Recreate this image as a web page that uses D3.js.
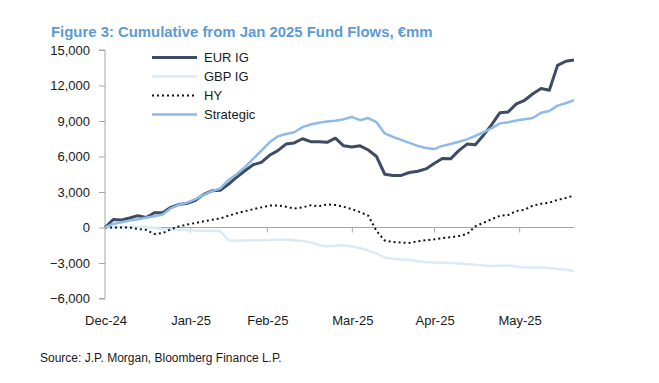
<!DOCTYPE html>
<html>
<head>
<meta charset="utf-8">
<script src="https://cdn.jsdelivr.net/npm/d3@7"></script>
<style>
  html, body { margin: 0; padding: 0; background: #ffffff; }
  svg { display: block; }
  text { font-family: "Liberation Sans", Arial, sans-serif; }
</style>
</head>
<body>
<svg id="chart" width="659" height="383"></svg>
<script>
// ---------------- data ----------------
const dates = [
  "2024-12-31","2025-01-03","2025-01-06","2025-01-09","2025-01-12","2025-01-15","2025-01-18","2025-01-21",
  "2025-01-24","2025-01-27","2025-01-30","2025-02-02","2025-02-05","2025-02-08","2025-02-11","2025-02-14",
  "2025-02-17","2025-02-20","2025-02-23","2025-02-26","2025-03-01","2025-03-04","2025-03-07","2025-03-10",
  "2025-03-13","2025-03-16","2025-03-19","2025-03-22","2025-03-25","2025-03-28","2025-03-31","2025-04-03",
  "2025-04-06","2025-04-09","2025-04-12","2025-04-15","2025-04-18","2025-04-21","2025-04-24","2025-04-27",
  "2025-04-30","2025-05-03","2025-05-06","2025-05-09","2025-05-12","2025-05-15","2025-05-18","2025-05-21",
  "2025-05-24","2025-05-27","2025-05-30","2025-06-02","2025-06-05","2025-06-08","2025-06-11","2025-06-14",
  "2025-06-17","2025-06-20"
];

const eurIG = [
  0, 680, 640, 800, 1000, 850, 1250, 1250,
  1700, 1950, 2050, 2300, 2800, 3100, 3150, 3650,
  4250, 4800, 5300, 5500, 6100, 6500, 7050, 7150,
  7500, 7250, 7250, 7200, 7550, 6900, 6800, 6900,
  6550, 6000, 4500, 4400, 4400, 4650, 4750, 4950,
  5400, 5830, 5800, 6500, 7050, 7000, 7800, 8700,
  9700, 9770, 10450, 10750, 11300, 11750, 11600, 13700,
  14050, 14150
];

const gbpIG = [
  0, 0, 20, 50, 50, 30, -50, -120,
  -170, -200, -230, -260, -280, -290, -300, -1080,
  -1120, -1100, -1080, -1070, -1060, -1040, -1010, -1080,
  -1140, -1250, -1500, -1580, -1550, -1500, -1600, -1750,
  -1950, -2200, -2550, -2650, -2700, -2750, -2850, -2920,
  -2950, -2970, -3000, -3050, -3100, -3150, -3220, -3270,
  -3230, -3200, -3300, -3380, -3380, -3380, -3420, -3500,
  -3580, -3670
];

const hy = [
  0, 0, 0, 0, -120, -200, -550, -480,
  -150, 100, 250, 380, 520, 650, 760, 1000,
  1200, 1370, 1550, 1700, 1850, 1870, 1750, 1600,
  1700, 1880, 1800, 1950, 1900, 1750, 1550, 1300,
  1000, -300, -1100, -1230, -1270, -1300, -1170, -1080,
  -1000, -900, -830, -720, -550, 100, 400, 700,
  1000, 1050, 1400, 1500, 1850, 2000, 2100, 2330,
  2500, 2700
];

const strategic = [
  0, 300, 450, 580, 700, 820, 950, 1100,
  1620, 1930, 2100, 2400, 2750, 3070, 3300, 4000,
  4500, 5100, 5800, 6500, 7200, 7700, 7900, 8050,
  8480, 8700, 8860, 8950, 9020, 9150, 9350, 9070,
  9250, 8900, 7950, 7660, 7400, 7150, 6900, 6720,
  6630, 6900, 7050, 7250, 7450, 7750, 8050, 8400,
  8800, 8900, 9050, 9150, 9250, 9700, 9850, 10300,
  10500, 10760
];

const seriesNames = ["EUR IG", "GBP IG", "HY", "Strategic"];
const yTicks = [-6000, -3000, 0, 3000, 6000, 9000, 12000, 15000];
const xTickDates = ["2024-12-31","2025-01-31","2025-02-28","2025-03-31","2025-04-30","2025-05-31"];
const xTickLabels = ["Dec-24","Jan-25","Feb-25","Mar-25","Apr-25","May-25"];
const titleText = "Figure 3: Cumulative from Jan 2025 Fund Flows, \u20ACmm";
const sourceText = "Source: J.P. Morgan, Bloomberg Finance L.P.";

// ---------------- styles ----------------
const styles = {
  "EUR IG":    { color: "#3d4b63", width: 3,   dash: null },
  "GBP IG":    { color: "#dce9f7", width: 2.5, dash: null },
  "HY":        { color: "#111111", width: 2,   dash: "2,3" },
  "Strategic": { color: "#8dbae6", width: 2.5, dash: null }
};
const axisColor = "#a6a6a6";
const textColor = "#1a1a1a";

// ---------------- chart ----------------
const svg = d3.select("#chart");
const parse = d3.utcParse("%Y-%m-%d");
const dateObjs = dates.map(parse);

const x = d3.scaleUtc()
  .domain([parse("2024-12-31"), parse("2025-06-20")])
  .range([105, 574]);
const y = d3.scaleLinear()
  .domain([-6000, 15000])
  .range([298.5, 50]);

// title
svg.append("text")
  .attr("x", 51).attr("y", 36.5)
  .attr("fill", "#5b9bd5")
  .attr("font-size", 14.9)
  .attr("font-weight", "bold")
  .text(titleText);

// y axis
const yAxis = d3.axisLeft(y)
  .tickValues(yTicks)
  .tickSize(6)
  .tickPadding(9)
  .tickFormat(d3.format(","));
const gy = svg.append("g").attr("transform", "translate(105,0)").call(yAxis);
gy.select(".domain").attr("stroke", axisColor).attr("d", `M-6,${y(15000)}H0V${y(-6000)}H-6`);
gy.selectAll(".tick line").attr("stroke", axisColor);
gy.selectAll(".tick text")
  .attr("fill", textColor)
  .attr("font-size", 13)
  .attr("font-family", "'Liberation Sans', Arial, sans-serif");

// x axis along zero line
const xAxis = d3.axisBottom(x)
  .tickValues(xTickDates.map(parse))
  .tickSize(5)
  .tickFormat((d, i) => "");
const gx = svg.append("g").attr("transform", `translate(0,${y(0)})`).call(xAxis);
gx.select(".domain").attr("stroke", axisColor).attr("d", `M105,0H574`);
gx.selectAll(".tick line").attr("stroke", axisColor);
gx.selectAll(".tick").filter((d, i) => i === 0).select("line").remove();

// x labels at bottom
svg.append("g").selectAll("text")
  .data(xTickDates)
  .join("text")
  .attr("x", d => x(parse(d)) + 1)
  .attr("y", 325)
  .attr("text-anchor", "middle")
  .attr("fill", textColor)
  .attr("font-size", 13)
  .text((d, i) => xTickLabels[i]);

// lines
const seriesData = { "EUR IG": eurIG, "GBP IG": gbpIG, "HY": hy, "Strategic": strategic };
const line = d3.line()
  .x((d, i) => x(dateObjs[i]))
  .y(d => y(d));

const drawOrder = ["GBP IG", "HY", "EUR IG", "Strategic"];
drawOrder.forEach(name => {
  const s = styles[name];
  svg.append("path")
    .datum(seriesData[name])
    .attr("fill", "none")
    .attr("stroke", s.color)
    .attr("stroke-width", s.width)
    .attr("stroke-dasharray", s.dash)
    .attr("stroke-linejoin", "round")
    .attr("d", line);
});

// legend
const legendY = [57.5, 76.5, 95.5, 114.5];
const lg = svg.append("g");
seriesNames.forEach((name, i) => {
  const s = styles[name];
  lg.append("line")
    .attr("x1", 152).attr("x2", 197)
    .attr("y1", legendY[i]).attr("y2", legendY[i])
    .attr("stroke", s.color)
    .attr("stroke-width", s.width)
    .attr("stroke-dasharray", s.dash);
  lg.append("text")
    .attr("x", 204).attr("y", legendY[i] + 4.5)
    .attr("fill", textColor)
    .attr("font-size", 13)
    .text(name);
});

// source
svg.append("text")
  .attr("x", 40).attr("y", 362)
  .attr("fill", textColor)
  .attr("font-size", 12)
  .text(sourceText);
</script>
</body>
</html>
